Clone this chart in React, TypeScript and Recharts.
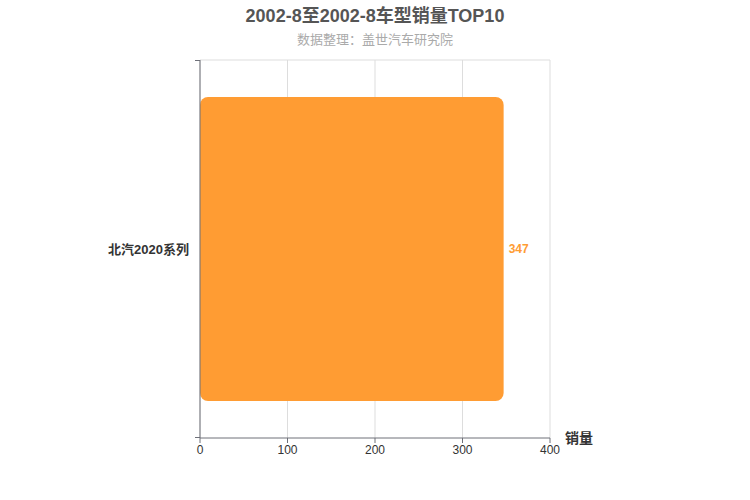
import React from 'react';
import { BarChart, Bar, XAxis, YAxis, CartesianGrid, LabelList } from 'recharts';

const categories = ['北汽2020系列'];
const sales = [347];
const xTicks = [0, 100, 200, 300, 400];
const titleText = '2002-8至2002-8车型销量TOP10';
const subtitleText = '数据整理：盖世汽车研究院';
const axisName = '销量';

const data = categories.map((name, i) => ({ name, value: sales[i] }));

const FONT = '"Liberation Sans", Arial, "Noto Sans CJK SC", sans-serif';

export default function App() {
  return (
    <div style={{ position: 'absolute', left: 0, top: 0, width: 750, height: 500, background: '#fff', fontFamily: FONT }}>
      <div style={{ position: 'absolute', left: 0, top: 5, width: 750, textAlign: 'center', fontSize: 18, fontWeight: 'bold', color: '#555', lineHeight: '22px' }}>
        {titleText}
      </div>
      <div style={{ position: 'absolute', left: 0, top: 32, width: 750, textAlign: 'center', fontSize: 13, color: '#aaa', lineHeight: '16px' }}>
        {subtitleText}
      </div>
      <BarChart
        width={750}
        height={500}
        data={data}
        layout="vertical"
        margin={{ top: 59, right: 200, bottom: 32, left: 0 }}
        barSize={304}
      >
        <CartesianGrid horizontal={false} stroke="#ddd" />
        <XAxis
          type="number"
          domain={[0, 400]}
          ticks={xTicks}
          height={30}
          axisLine={{ stroke: '#6E7079' }}
          tickLine={{ stroke: '#6E7079' }}
          tickSize={5}
          tick={{ fill: '#333', fontSize: 12, fontFamily: FONT }}
          interval={0}
        />
        <XAxis
          xAxisId="top"
          type="number"
          orientation="top"
          domain={[0, 400]}
          height={1}
          tick={false}
          tickLine={false}
          axisLine={{ stroke: '#ddd' }}
        />
        <YAxis
          type="category"
          dataKey="name"
          width={200}
          axisLine={{ stroke: '#6E7079' }}
          tickLine={false}
          tickMargin={5}
          tick={{ fill: '#333', fontSize: 13, fontWeight: 'bold', fontFamily: FONT }}
        />
        <Bar dataKey="value" fill="#FF9C33" radius={[8, 8, 8, 8]} isAnimationActive={false}>
          <LabelList dataKey="value" position="right" offset={5} fill="#FF9C33" fontSize={12} fontWeight="bold" fontFamily={FONT} />
        </Bar>
      </BarChart>
      <div style={{ position: 'absolute', left: 195, top: 60, width: 5, height: 1, background: '#6E7079' }} />
      <div style={{ position: 'absolute', left: 195, top: 437, width: 5, height: 1, background: '#6E7079' }} />
      <div style={{ position: 'absolute', left: 565, top: 429, fontSize: 14, fontWeight: 'bold', color: '#333', lineHeight: '18px' }}>
        {axisName}
      </div>
    </div>
  );
}
